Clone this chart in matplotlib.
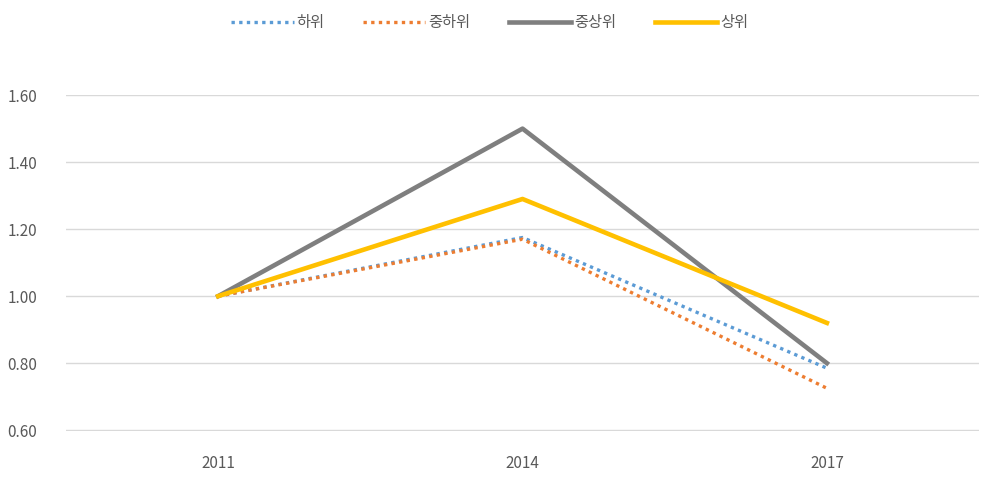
import matplotlib.pyplot as plt

plt.rcParams['font.family'] = ['Noto Sans CJK KR', 'DejaVu Sans']

# 데이터
years = ['2011', '2014', '2017']
low = [1.00, 1.175, 0.785]
mid_low = [1.00, 1.17, 0.725]
mid_high = [1.00, 1.50, 0.80]
high = [1.00, 1.29, 0.92]
labels = ['하위', '중하위', '중상위', '상위']

fig = plt.figure(figsize=(9.85, 4.78), dpi=100)
ax = fig.add_axes([0.067, 0.098, 0.927, 0.703])

x = range(len(years))
ax.plot(x, low, color='#5B9BD5', linestyle=(0, (1, 1.3)), linewidth=2.4, label=labels[0])
ax.plot(x, mid_low, color='#ED7D31', linestyle=(0, (1, 1.3)), linewidth=2.4, label=labels[1])
ax.plot(x, mid_high, color='#7F7F7F', linewidth=3.3, label=labels[2])
ax.plot(x, high, color='#FFC000', linewidth=3.3, label=labels[3])

ax.set_xlim(-0.5, 2.5)
ax.set_ylim(0.597, 1.6)
ax.set_xticks(list(x))
ax.set_xticklabels(years)
ax.set_yticks([0.6, 0.8, 1.0, 1.2, 1.4, 1.6])
ax.set_yticklabels(['0.60', '0.80', '1.00', '1.20', '1.40', '1.60'])
ax.tick_params(colors='#595959', labelsize=11, length=0)
ax.tick_params(axis='x', pad=17)
ax.tick_params(axis='y', pad=42)
for lbl in ax.get_yticklabels():
    lbl.set_horizontalalignment('left')

ax.grid(axis='y', color='#D9D9D9', linewidth=1)
ax.set_axisbelow(True)
for s in ax.spines.values():
    s.set_visible(False)

fig.legend(loc='center', bbox_to_anchor=(0.497, 0.953), ncol=4, frameon=False,
           fontsize=11, handlelength=4.1, handletextpad=0.2, columnspacing=2.5,
           labelcolor='#595959')

plt.savefig('out.png', dpi=100)
